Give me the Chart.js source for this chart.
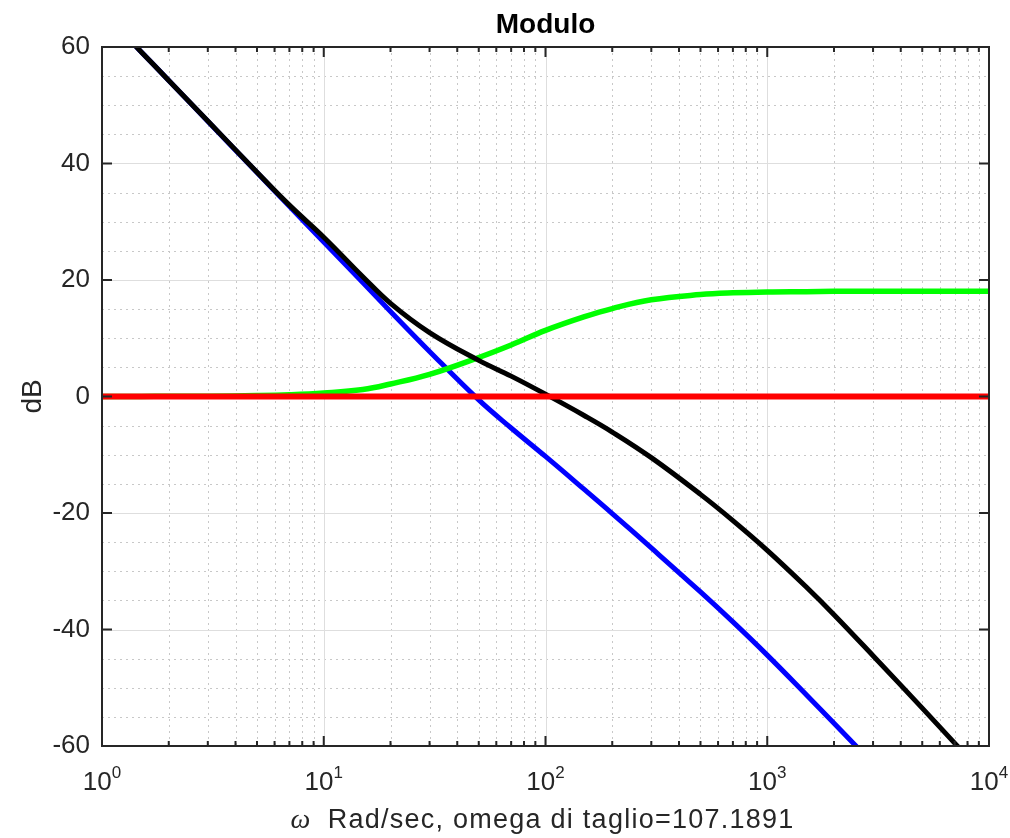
<!DOCTYPE html>
<html>
<head>
<meta charset="utf-8">
<title>Modulo</title>
<script src="https://cdn.jsdelivr.net/npm/chart.js@4.4.0/dist/chart.umd.min.js"></script>
<style>
  html, body { margin: 0; padding: 0; background: #fff; }
  #wrap { width: 1010px; height: 838px; }
</style>
</head>
<body>
<div id="wrap"><canvas id="bode" width="1010" height="838"></canvas></div>
<script>
const omega = [1, 1.5, 2, 3, 5, 7, 10, 15, 20, 30, 50, 70, 100, 150, 200, 300, 500, 700, 1000, 1500, 2000, 3000, 5000, 7000, 10000];

// Magnitudes in dB
const plantDb = [66.2, 59.2, 54.25, 47.25, 38.45, 32.65, 26.5, 19.55, 14.6, 7.74, -0.59, -5.41, -10.29, -16.0, -20.1, -26.0, -33.55, -38.7, -44.4, -51.2, -56.1, -63.05, -71.9, -77.7, -83.9];
const compDb = [0.0, 0.02, 0.03, 0.06, 0.16, 0.3, 0.6, 1.2, 2.15, 3.8, 6.7, 8.85, 11.35, 13.7, 15.1, 16.6, 17.5, 17.8, 17.95, 18.0, 18.05, 18.05, 18.05, 18.05, 18.05];
const loopDb = [66.2, 59.2, 54.25, 47.3, 38.5, 32.85, 27.35, 20.57, 16.0, 10.98, 6.2, 3.5, 0.4, -3.3, -6.1, -10.5, -16.8, -21.3, -26.4, -32.7, -37.45, -44.5, -53.5, -59.5, -65.9];
const zeroDb = [0, 0, 0, 0, 0, 0, 0, 0, 0, 0, 0, 0, 0, 0, 0, 0, 0, 0, 0, 0, 0, 0, 0, 0, 0];

// Axis ticks
const xDecades = [1, 10, 100, 1000, 10000];
const xExponents = ['0', '1', '2', '3', '4'];
const yTicks = [-60, -40, -20, 0, 20, 40, 60];
const yMinorStep = 5;

const axisColor = '#262626';
const sansFont = '"Liberation Sans", Arial, Helvetica, sans-serif';

function toPoints(ys) {
    return omega.map((w, i) => ({ x: w, y: ys[i] }));
}

// MATLAB-like box, grid, inner ticks, superscript decade labels and titles
const matlabAxes = {
    id: 'matlabAxes',
    beforeDatasetsDraw(chart) {
        const { ctx, chartArea: a, scales: { x, y } } = chart;
        ctx.save();

        // minor grid, dotted
        ctx.strokeStyle = '#c8c8c8';
        ctx.lineWidth = 1;
        ctx.setLineDash([2, 4]);
        ctx.beginPath();
        for (let d = 0; d < xDecades.length - 1; d++) {
            for (let m = 2; m <= 9; m++) {
                const px = Math.round(x.getPixelForValue(xDecades[d] * m)) + 0.5;
                ctx.moveTo(px, a.top);
                ctx.lineTo(px, a.bottom);
            }
        }
        for (let v = yTicks[0]; v <= yTicks[yTicks.length - 1]; v += yMinorStep) {
            if (yTicks.includes(v)) continue;
            const py = Math.round(y.getPixelForValue(v)) + 0.5;
            ctx.moveTo(a.left, py);
            ctx.lineTo(a.right, py);
        }
        ctx.stroke();

        // major grid, solid
        ctx.setLineDash([]);
        ctx.strokeStyle = '#dedede';
        ctx.beginPath();
        xDecades.forEach(v => {
            const px = Math.round(x.getPixelForValue(v)) + 0.5;
            ctx.moveTo(px, a.top);
            ctx.lineTo(px, a.bottom);
        });
        yTicks.forEach(v => {
            const py = Math.round(y.getPixelForValue(v)) + 0.5;
            ctx.moveTo(a.left, py);
            ctx.lineTo(a.right, py);
        });
        ctx.stroke();
        ctx.restore();
    },
    afterDatasetsDraw(chart) {
        const { ctx, chartArea: a, scales: { x, y } } = chart;
        ctx.save();
        ctx.strokeStyle = axisColor;
        ctx.lineWidth = 2;

        // ticks pointing inwards
        ctx.beginPath();
        for (let d = 0; d < xDecades.length; d++) {
            const px = x.getPixelForValue(xDecades[d]);
            ctx.moveTo(px, a.bottom); ctx.lineTo(px, a.bottom - 10);
            ctx.moveTo(px, a.top); ctx.lineTo(px, a.top + 10);
            if (d === xDecades.length - 1) break;
            for (let m = 2; m <= 9; m++) {
                const pm = x.getPixelForValue(xDecades[d] * m);
                ctx.moveTo(pm, a.bottom); ctx.lineTo(pm, a.bottom - 5);
                ctx.moveTo(pm, a.top); ctx.lineTo(pm, a.top + 5);
            }
        }
        yTicks.forEach(v => {
            const py = y.getPixelForValue(v);
            ctx.moveTo(a.left, py); ctx.lineTo(a.left + 10, py);
            ctx.moveTo(a.right, py); ctx.lineTo(a.right - 10, py);
        });
        ctx.stroke();

        // box
        ctx.strokeRect(a.left, a.top, a.right - a.left, a.bottom - a.top);

        // decade labels 10^n
        ctx.fillStyle = axisColor;
        ctx.textBaseline = 'alphabetic';
        ctx.textAlign = 'left';
        xDecades.forEach((v, i) => {
            const px = x.getPixelForValue(v);
            ctx.font = '26px ' + sansFont;
            const wBase = ctx.measureText('10').width;
            ctx.font = '17px ' + sansFont;
            const wExp = ctx.measureText(xExponents[i]).width;
            const start = px - (wBase + wExp) / 2;
            ctx.font = '26px ' + sansFont;
            ctx.fillText('10', start, a.bottom + 44);
            ctx.font = '17px ' + sansFont;
            ctx.fillText(xExponents[i], start + wBase, a.bottom + 32);
        });

        // x axis label: greek omega in italic serif, then the text
        const omegaTxt = '\u03c9';
        const restTxt = '  Rad/sec, omega di taglio=107.1891';
        const omegaFont = 'italic 28px "Liberation Serif", "DejaVu Serif", serif';
        ctx.font = omegaFont;
        const wOmega = ctx.measureText(omegaTxt).width;
        ctx.font = '27px ' + sansFont;
        ctx.letterSpacing = '1.25px';
        const wRest = ctx.measureText(restTxt).width;
        const cx = (a.left + a.right) / 2 - 3;
        const left = cx - (wOmega + wRest) / 2;
        const base = chart.height - 10;
        ctx.letterSpacing = '0px';
        ctx.font = omegaFont;
        ctx.fillText(omegaTxt, left, base);
        ctx.font = '27px ' + sansFont;
        ctx.letterSpacing = '1.25px';
        ctx.fillText(restTxt, left + wOmega, base);

        // plot title, centred on the axes
        ctx.letterSpacing = '0px';
        ctx.fillStyle = '#000000';
        ctx.textAlign = 'center';
        ctx.font = 'bold 28px ' + sansFont;
        ctx.fillText('Modulo', (a.left + a.right) / 2, 33);
        ctx.restore();
    }
};

const lineDefaults = {
    pointRadius: 0,
    fill: false,
    tension: 0.4,
    clip: 0
};

const ctx = document.getElementById('bode').getContext('2d');
new Chart(ctx, {
    type: 'line',
    data: {
        datasets: [
            { ...lineDefaults, label: '0 dB', data: toPoints(zeroDb), borderColor: '#ff0000', borderWidth: 6, order: 0 },
            { ...lineDefaults, label: 'G*C', data: toPoints(loopDb), borderColor: '#000000', borderWidth: 5, order: 1 },
            { ...lineDefaults, label: 'C', data: toPoints(compDb), borderColor: '#00ff00', borderWidth: 5.5, order: 2 },
            { ...lineDefaults, label: 'G', data: toPoints(plantDb), borderColor: '#0000ff', borderWidth: 5, order: 3 }
        ]
    },
    options: {
        responsive: false,
        animation: false,
        devicePixelRatio: 1,
        layout: { padding: { left: 0, right: 21, top: 47, bottom: 0 } },
        scales: {
            x: {
                type: 'logarithmic',
                min: 1,
                max: 10000,
                grid: { display: false, drawTicks: false },
                border: { display: false },
                ticks: { display: false },
                afterFit(scale) { scale.height = 92; }
            },
            y: {
                type: 'linear',
                min: -60,
                max: 60,
                grid: { display: false, drawTicks: false },
                border: { display: false },
                ticks: {
                    stepSize: 20,
                    padding: 12,
                    color: axisColor,
                    font: { family: sansFont, size: 26 }
                },
                title: {
                    display: true,
                    text: 'dB',
                    color: axisColor,
                    font: { family: sansFont, size: 28 },
                    padding: { top: 16, bottom: 0 }
                },
                afterFit(scale) { scale.width = 102; }
            }
        },
        plugins: {
            legend: { display: false },
            tooltip: { enabled: false },
            title: { display: false }
        }
    },
    plugins: [matlabAxes]
});
</script>
</body>
</html>
